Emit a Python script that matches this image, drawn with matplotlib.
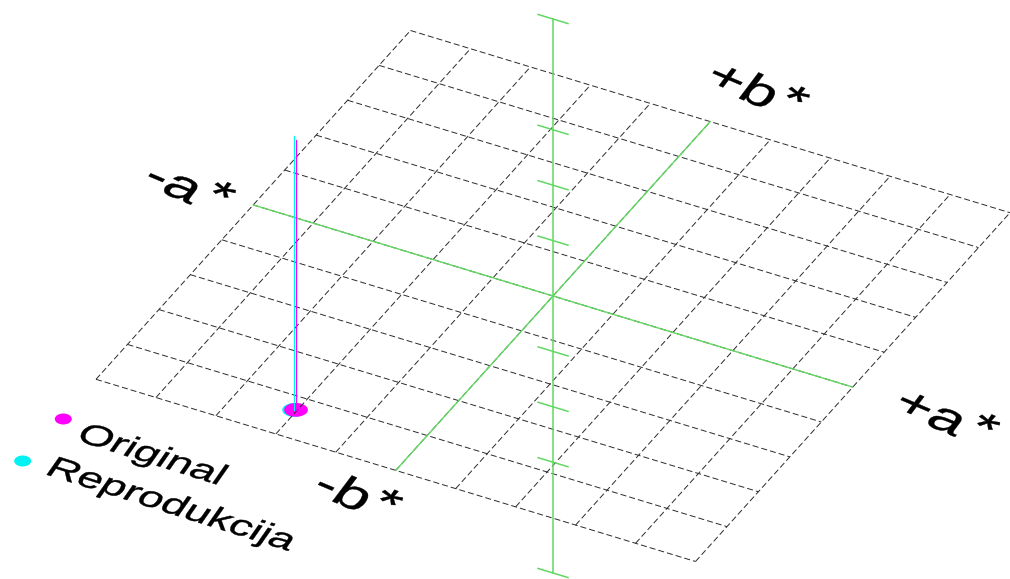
import numpy as np
import matplotlib.pyplot as plt
from matplotlib.transforms import Affine2D
from matplotlib.textpath import TextPath
from matplotlib.path import Path
from matplotlib.patches import PathPatch, Circle, Ellipse
from matplotlib.font_manager import FontProperties

# a*/b* grid of the plane and the L* axis
grid_vals = np.arange(-50, 51, 10)
L_ticks = [0, 20, 30, 40, 60, 70, 80, 100]
L_range = [0, 100]
L_plane = 50

# measured colour: a*, b*, L*
names = ["Original", "Reprodukcija"]
colors = ["#ff00ff", "#00f2f2"]
a_vals = [-20.2, -20.45]
b_vals = [-43.2, -43.35]
L_vals = [98.7, 99.5]

axis_names = ["-a", "+a", "-b", "+b"]

# ---- layout ----
W, H = 1010, 579
fig = plt.figure(figsize=(W / 100, H / 100), dpi=100)
ax = fig.add_axes([0, 0, 1, 1])
ax.axis('off')

origin = (553, 296)
ea = (5.995, 1.822)
eb = (3.145, -3.488)
eL = 5.54
plane = Affine2D(np.array([[ea[0], eb[0], origin[0]],
                           [ea[1], eb[1], origin[1]],
                           [0, 0, 1.0]]))
plane_tr = plane + ax.transData


def proj(a, b, L=L_plane):
    a, b, L = np.broadcast_arrays(np.asarray(a, float), np.asarray(b, float), np.asarray(L, float))
    xy = plane.transform(np.column_stack([a.ravel(), b.ravel()]))
    return xy[:, 0], xy[:, 1] - eL * (L.ravel() - L_plane)


green = '#62d862'
lo, hi = grid_vals[0], grid_vals[-1]
for v in grid_vals:
    ax.plot([v, v], [lo, hi], transform=plane_tr, color='#2a2a2a', lw=0.7, dashes=(6.2, 3.1))
    ax.plot([lo, hi], [v, v], transform=plane_tr, color='#2a2a2a', lw=0.7, dashes=(6.2, 3.1))

# a* and b* axes
ax.plot([lo, hi], [0, 0], transform=plane_tr, color=green, lw=1.0)
ax.plot([0, 0], [lo, hi], transform=plane_tr, color=green, lw=1.0)

# L* axis with ticks
x, y = proj(0, 0, L_range)
ax.plot(x, y, color=green, lw=1.1)
for t in L_ticks:
    x, y = proj([-2.5, 2.5], 0, t)
    ax.plot(x, y, color=green, lw=1.1)

# measured points: stem up to L* and marker on the plane
for i in [1, 0]:
    x, y = proj([a_vals[i]] * 2, b_vals[i], [L_plane, L_vals[i]])
    ax.plot(x, y, color=colors[i], lw=0.9)
for i in [1, 0]:
    ax.add_patch(Circle((a_vals[i], b_vals[i]), 1.75, transform=plane_tr,
                        fc=colors[i], ec='none'))

fp = FontProperties(family='Liberation Sans')


def flat_text(s, anchor_px, k, h, rel=None, star=False, rot=21, lean=35):
    path = TextPath((0, 0), s, size=1, prop=fp)
    if star:
        x1 = path.get_extents().x1
        sp = TextPath((x1 + 0.1, 0.12), "*", size=1.0, prop=fp)
        path = Path.make_compound_path(path, sp)
    ext = path.get_extents()
    if rel is None:
        rel = ((ext.x0 + ext.x1) / 2, (ext.y0 + ext.y1) / 2)
    r, l = np.radians(rot), np.radians(lean)
    ux = (k * np.cos(r), k * np.sin(r))
    uy = (k * h * np.sin(l), -k * h * np.cos(l))
    M = Affine2D(np.array([[ux[0], uy[0], 0], [ux[1], uy[1], 0], [0, 0, 1.0]]))
    tr = Affine2D().translate(-rel[0], -rel[1]) + M + Affine2D().translate(*anchor_px) + ax.transData
    ax.add_patch(PathPatch(path, transform=tr, fc='black', ec='black', lw=0.3))


# axis labels (plane positions)
label_pos = [(-60.4, 0), (65.8, 0.2), (-2.0, -57.8), (2.4, 60.9)]
for s, (pa, pb) in zip(axis_names, label_pos):
    x, y = proj(pa, pb)
    flat_text(s, (x[0], y[0]), 62, 0.72, star=True, rot=23, lean=37)

# legend
legend_dots = [(63.3, 419), (22.7, 461)]
legend_text = [(83, 431), (52, 465)]
for i in range(2):
    ax.add_patch(Ellipse(legend_dots[i], 17, 11, fc=colors[i], ec='none'))
    flat_text(names[i], legend_text[i], 44, 0.72, rel=(0.05, 0.36), rot=17.5)

ax.set_xlim(0, W)
ax.set_ylim(H, 0)
fig.savefig('out.png', dpi=100, facecolor='white')
